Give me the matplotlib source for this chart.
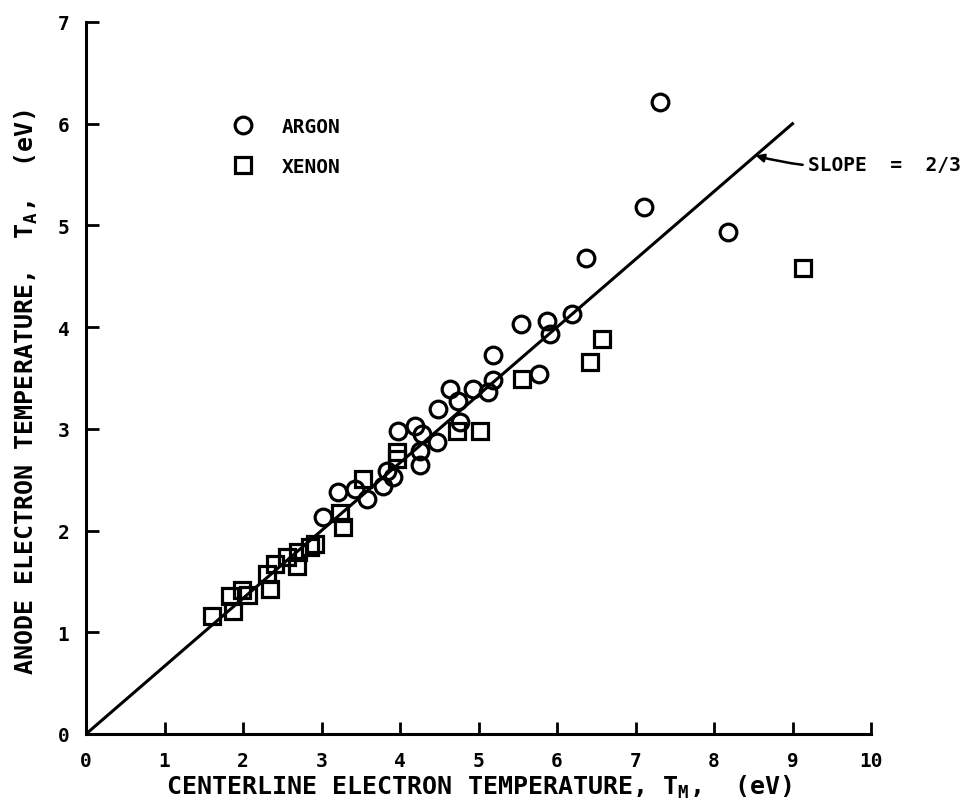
#!/usr/bin/env python3
import numpy as np
import matplotlib
matplotlib.use("Agg")
import matplotlib.pyplot as plt

plt.rcParams["font.family"] = "DejaVu Sans Mono"
plt.rcParams["font.weight"] = "bold"
plt.rcParams["mathtext.fontset"] = "custom"
plt.rcParams["mathtext.bf"] = "DejaVu Sans Mono:bold"
plt.rcParams["mathtext.rm"] = "DejaVu Sans Mono:bold"

# centerline vs anode electron temperature (eV)
argon_tm = [3.02, 3.21, 3.43, 3.58, 3.78, 3.83, 3.91, 3.97, 4.19, 4.28,
            4.25, 4.25, 4.47, 4.48, 4.64, 4.74, 4.76, 4.93, 5.12, 5.18,
            5.18, 5.54, 5.77, 5.87, 5.91, 6.19, 6.37, 7.11, 7.31, 8.18]
argon_ta = [2.13, 2.38, 2.41, 2.31, 2.44, 2.59, 2.53, 2.98, 3.03, 2.95,
            2.78, 2.64, 2.87, 3.20, 3.39, 3.27, 3.07, 3.39, 3.36, 3.48,
            3.73, 4.03, 3.54, 4.06, 3.93, 4.13, 4.68, 5.18, 6.21, 4.94]

xenon_tm = [1.61, 1.87, 1.83, 1.99, 2.07, 2.34, 2.30, 2.41, 2.56, 2.69,
            2.70, 2.85, 2.92, 3.24, 3.27, 3.53, 3.96, 3.96, 4.73, 5.02,
            5.55, 6.42, 6.57, 9.13]
xenon_ta = [1.16, 1.21, 1.36, 1.42, 1.37, 1.43, 1.57, 1.67, 1.74, 1.65,
            1.79, 1.84, 1.87, 2.17, 2.04, 2.51, 2.77, 2.70, 2.98, 2.98,
            3.49, 3.66, 3.88, 4.58]

fit_x = [0.0, 9.0]
slope = 2.0 / 3.0

fig = plt.figure(figsize=(9.65, 8.04), dpi=100)
ax = fig.add_axes([86 / 965, 69 / 804, 785 / 965, 712 / 804])

ax.plot(fit_x, [slope * v for v in fit_x], color="black", lw=2.2, zorder=2)
ax.plot(argon_tm, argon_ta, "o", ms=12, mfc="none", mec="black", mew=2.3,
        label="ARGON", zorder=3)
ax.plot(xenon_tm, xenon_ta, "s", ms=11, mfc="none", mec="black", mew=2.3,
        label="XENON", zorder=3)

ax.annotate("SLOPE  =  2/3", xy=(8.53, slope * 8.53), xytext=(9.2, 5.6),
            fontsize=14, fontweight="bold", va="center", ha="left",
            arrowprops=dict(arrowstyle="-|>", color="black", lw=1.8,
                            mutation_scale=12, shrinkA=2, shrinkB=0,
                            connectionstyle="arc3,rad=-0.1"),
            annotation_clip=False)

ax.legend(loc="upper left", bbox_to_anchor=(0.163, 0.891), frameon=False,
          handletextpad=1.4, labelspacing=1.05, fontsize=14,
          handlelength=1.2)

ax.set_xlim(0, 10)
ax.set_ylim(0, 7)
ax.set_xticks(np.arange(0, 11, 1))
ax.set_yticks(np.arange(0, 8, 1))
ax.spines["top"].set_visible(False)
ax.spines["right"].set_visible(False)
for s in ("left", "bottom"):
    ax.spines[s].set_linewidth(2.2)
ax.tick_params(direction="in", length=9, width=2.0, labelsize=14, pad=12)

ax.set_xlabel(r"CENTERLINE ELECTRON TEMPERATURE, T$_{\mathbf{M}}$,  (eV)",
              fontsize=18, fontweight="bold", labelpad=2)
ax.set_ylabel(r"ANODE ELECTRON TEMPERATURE,  T$_{\mathbf{A}}$,  (eV)",
              fontsize=18, fontweight="bold", labelpad=9)
ax.yaxis.set_label_coords(-0.058, 0.482)

fig.savefig("out.png", dpi=100)
